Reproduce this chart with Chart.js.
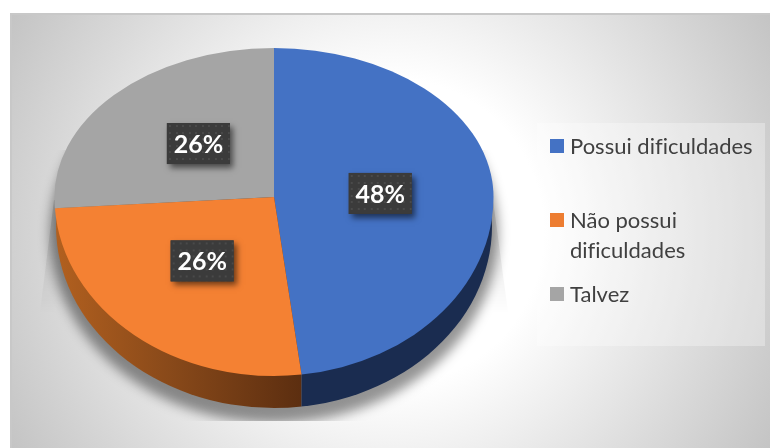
<!DOCTYPE html>
<html>
<head>
<meta charset="utf-8">
<style>
  body { margin: 0; background: #fff; width: 770px; height: 448px; overflow: hidden; position: relative; font-family: Lato, sans-serif; }
  #frame {
    position: absolute; left: 10px; top: 13px; width: 760px; height: 435px; box-sizing: border-box;
    border-top: 2px solid #c8c8c8; border-left: 2px solid #c8c8c8;
    background: radial-gradient(circle farthest-corner at 50% 50%, #fff 35%, #c4c4c4 100%);
  }
  canvas { position: absolute; left: 0; top: 0; }
  #legendBox {
    position: absolute; left: 537px; top: 123px; width: 228px; height: 223px;
    background: rgba(255, 255, 255, 0.3);
  }
  .item { position: absolute; left: 33px; width: 192px; color: #404040; font-size: 22px; line-height: 30px; font-variant-ligatures: none; }
  .item i { position: absolute; left: -20px; top: 8px; width: 14px; height: 14px; }
</style>
</head>
<body>
<div id="frame"></div>
<canvas id="pie" width="770" height="448"></canvas>
<div id="legendBox"></div>
<script src="https://cdn.jsdelivr.net/npm/chart.js@4"></script>
<script>
const categories = ['Possui dificuldades', 'Não possui dificuldades', 'Talvez'];
const legendLines = [['Possui dificuldades'], ['Não possui', 'dificuldades'], ['Talvez']];
const values = [48, 26, 26];
const colors = ['#4472c4', '#f48133', '#a5a5a5'];
const swatches = ['#4472c4', '#ed7d31', '#a5a5a5'];

// tilted disc: the near half is stretched more than the far half
const apexX = 274, apexY = 197, radiusX = 219.5, farY = 149, nearY = 179;
// underside of the disc
const baseY = 226, baseRx = 218, baseRy = 182;
const legendTops = [8, 82, 156];
const labelNudge = [[0, 1], [-4, -3], [2, -4]];

function dots() {
  const tile = document.createElement('canvas');
  tile.width = tile.height = 13;
  const c = tile.getContext('2d');
  c.fillStyle = '#3b3b3b';
  c.fillRect(0, 0, 13, 13);
  c.fillStyle = '#4a4a4a';
  [[2, 2], [9, 2], [2, 9], [9, 9]].forEach(p => c.fillRect(p[0], p[1], 2, 2));
  return tile;
}

function drawShadow(ctx) {
  ctx.save();
  ctx.beginPath();
  ctx.rect(30, 150, 490, 271);
  ctx.clip();
  // long faint wedges either side of the disc
  let g = ctx.createLinearGradient(0, 200, 0, 315);
  g.addColorStop(0, 'rgba(0,0,0,0.14)');
  g.addColorStop(1, 'rgba(0,0,0,0)');
  ctx.fillStyle = g;
  ctx.beginPath();
  ctx.moveTo(54, 200);
  ctx.lineTo(40, 312);
  ctx.lineTo(508, 312);
  ctx.lineTo(493, 200);
  ctx.fill();
  // soft shadow under the rim
  ctx.filter = 'blur(6px)';
  ctx.fillStyle = 'rgba(0,0,0,0.42)';
  ctx.beginPath();
  ctx.ellipse(apexX, baseY + 7, baseRx + 6, baseRy + 8, 0, 0, Math.PI * 2);
  ctx.fill();
  ctx.restore();
}

function drawRim(ctx, arcs) {
  // the seam sits where the blue/orange boundary meets the near edge
  const seam = apexX + radiusX * Math.cos(arcs[0].endAngle);
  const orange = ctx.createLinearGradient(55, 0, seam, 0);
  orange.addColorStop(0, '#b2601f');
  orange.addColorStop(0.45, '#8a4a1a');
  orange.addColorStop(1, '#5c2e10');
  ctx.save();
  ctx.beginPath();
  ctx.rect(0, apexY, seam, 448 - apexY);
  ctx.clip();
  ctx.fillStyle = orange;
  ctx.beginPath();
  ctx.ellipse(apexX, baseY, baseRx, baseRy, 0, 0, Math.PI * 2);
  ctx.fill();
  ctx.restore();
  ctx.save();
  ctx.beginPath();
  ctx.rect(seam, apexY, 770 - seam, 448 - apexY);
  ctx.clip();
  ctx.fillStyle = '#1a2c50';
  ctx.beginPath();
  ctx.ellipse(apexX, baseY, baseRx, baseRy, 0, 0, Math.PI * 2);
  ctx.fill();
  ctx.restore();
}

function drawFace(ctx, arcs, clipY, clipH, ry) {
  const c = arcs[0];
  ctx.save();
  ctx.beginPath();
  ctx.rect(0, clipY, 770, clipH);
  ctx.clip();
  ctx.translate(apexX, apexY);
  ctx.scale(radiusX / c.outerRadius, ry / c.outerRadius);
  ctx.translate(-c.x, -c.y);
  arcs.forEach(a => a.draw(ctx));
  ctx.restore();
}

const tiltPlugin = {
  id: 'tilted_pie',
  beforeDatasetDraw: (chart, args) => {
    const ctx = chart.ctx;
    const arcs = args.meta.data;
    drawShadow(ctx);
    drawRim(ctx, arcs);
    drawFace(ctx, arcs, 0, apexY, farY);
    drawFace(ctx, arcs, apexY, 448 - apexY, nearY);
    return false;
  },
  afterDatasetsDraw: (chart) => {
    const ctx = chart.ctx;
    const arcs = chart.getDatasetMeta(0).data;
    const pattern = ctx.createPattern(dots(), 'repeat');
    arcs.forEach((a, i) => {
      const mid = (a.startAngle + a.endAngle) / 2;
      const sin = Math.sin(mid);
      const x = apexX + radiusX * 0.485 * Math.cos(mid) + labelNudge[i][0];
      const y = apexY + (sin < 0 ? farY : nearY) * 0.485 * sin + labelNudge[i][1];
      ctx.save();
      ctx.shadowColor = 'rgba(0,0,0,0.55)';
      ctx.shadowBlur = 6;
      ctx.shadowOffsetX = 3;
      ctx.shadowOffsetY = 4;
      ctx.fillStyle = '#3b3b3b';
      ctx.fillRect(x - 31.5, y - 20.5, 63, 41);
      ctx.restore();
      ctx.save();
      ctx.translate(x - 31.5, y - 20.5);
      ctx.fillStyle = pattern;
      ctx.fillRect(0, 0, 63, 41);
      ctx.restore();
      ctx.fillStyle = '#fff';
      ctx.font = 'bold 25px Lato, sans-serif';
      ctx.textAlign = 'center';
      ctx.textBaseline = 'middle';
      ctx.fillText(values[i] + '%', x, y + 1);
    });
  }
};

new Chart(document.getElementById('pie').getContext('2d'), {
  type: 'pie',
  data: {
    labels: categories,
    datasets: [{ data: values, backgroundColor: colors, borderWidth: 0 }]
  },
  options: {
    responsive: false,
    animation: false,
    plugins: { legend: { display: false }, tooltip: { enabled: false } }
  },
  plugins: [tiltPlugin]
});

const box = document.getElementById('legendBox');
legendLines.forEach((lines, i) => {
  const row = document.createElement('div');
  row.className = 'item';
  row.style.top = legendTops[i] + 'px';
  row.innerHTML = '<i style="background:' + swatches[i] + '"></i>' + lines.join('<br>');
  box.appendChild(row);
});
</script>
</body>
</html>
